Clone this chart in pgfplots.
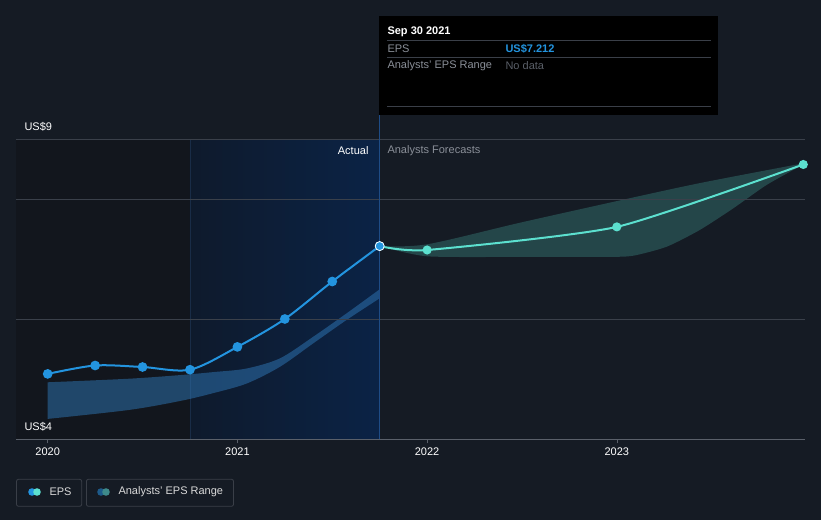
\documentclass[border=0pt]{standalone}
\usepackage{pgfplots}
\pgfplotsset{compat=1.18}
\usepgfplotslibrary{fillbetween}
\usepackage{fontspec}
\setmainfont{Liberation Sans}
\definecolor{bg}{HTML}{151B24}
\definecolor{darkreg}{HTML}{12161D}
\definecolor{blueL}{HTML}{0E1A2C}
\definecolor{blueR}{HTML}{0B2346}
\definecolor{epsblue}{HTML}{2394DF}
\definecolor{epsteal}{HTML}{5CE0CF}
\definecolor{pastband}{HTML}{2F78B8}
\definecolor{gridc}{HTML}{3A404A}
\definecolor{axisc}{HTML}{5A606A}
\definecolor{txtgray}{HTML}{8A8F98}
\definecolor{vline}{HTML}{1E4C86}
\definecolor{boxline}{HTML}{3A3F48}
\definecolor{nodata}{HTML}{5A5F68}
\definecolor{legA}{HTML}{1D5A8A}
\definecolor{legB}{HTML}{3E8A8A}
\pagecolor{bg}
\begin{document}
\begin{tikzpicture}[font=\fontsize{11}{13}\selectfont]
\begin{scope}[x=1pt,y=1pt]
\path (0,0) rectangle (821,520);
\end{scope}
\begin{axis}[
  at={(16pt,80.7pt)}, anchor=south west, scale only axis,
  width=789pt, height=423.3pt,
  xmin=2019.8329, xmax=2023.992, ymin=4, ymax=11.055,
  clip=false,
  axis x line=bottom, axis y line=none,
  axis line style={-,color=axisc,line width=0.8pt},
  xtick={2020,2021,2022,2023},
  xticklabels={2020,2021,2022,2023},
  xtick align=outside, major tick length=4pt,
  xtick style={color=axisc,line width=0.6pt},
  xticklabel style={text=white,font=\fontsize{11}{13}\selectfont,yshift=-1pt},
  /pgf/number format/assume math mode=true,
  ytick=\empty,
]
\begin{pgfonlayer}{axis background}
\fill[darkreg] (axis cs:2019.8329,4) rectangle (axis cs:2020.75,9);
\shade[left color=blueL,right color=blueR] (axis cs:2020.75,4) rectangle (axis cs:2021.75,9);
\draw[color=blueR!70!gridc,line width=0.6pt] (axis cs:2020.75,4) -- (axis cs:2020.75,9);
\end{pgfonlayer}
% grid lines
\draw[gridc,line width=0.7pt] (axis cs:2019.8329,6) -- (axis cs:2023.992,6);
\draw[gridc,line width=0.7pt] (axis cs:2019.8329,8) -- (axis cs:2023.992,8);
\draw[gridc,line width=0.7pt] (axis cs:2019.8329,9) -- (axis cs:2023.992,9);
% vertical marker line
\draw[vline,line width=0.8pt] (axis cs:2021.75,4) -- (axis cs:2021.75,10.8);
% past analysts range band
\addplot[name path=pu, draw=none, smooth, forget plot] coordinates {
 (2020.0,4.95) (2020.43,5.01) (2020.697,5.07) (2020.873,5.12) (2021.049,5.18) (2021.225,5.35) (2021.40,5.71) (2021.576,6.10) (2021.75,6.50)};
\addplot[name path=pl, draw=none, smooth, forget plot] coordinates {
 (2020.0,4.34) (2020.43,4.49) (2020.7,4.64) (2020.873,4.77) (2021.049,4.93) (2021.225,5.21) (2021.40,5.60) (2021.576,5.99) (2021.75,6.35)};
\addplot[fill=pastband, draw=none, fill opacity=0.5] fill between[of=pu and pl];
% forecast band
\addplot[name path=fu, draw=none, smooth, forget plot] coordinates {
 (2021.75,7.22) (2022.0,7.25) (2022.49,7.61) (2023.0,7.97) (2023.438,8.27) (2023.983,8.60)};
\addplot[name path=fl, draw=none, smooth, tension=0.4, forget plot] coordinates {
 (2021.75,7.22) (2022.0,7.05) (2022.5,7.04) (2022.95,7.04) (2023.087,7.06) (2023.263,7.21) (2023.438,7.49) (2023.614,7.85) (2023.79,8.24) (2023.983,8.58)};
\addplot[fill=epsteal, draw=none, fill opacity=0.22] fill between[of=fu and fl];
% actual EPS
\addplot[epsblue, line width=2pt, smooth, mark=*, mark size=3.8pt, mark options={fill=epsblue,draw=epsblue}] coordinates {
 (2020.0,5.09) (2020.25,5.23) (2020.5,5.205) (2020.75,5.16) (2021.0,5.54) (2021.25,6.005) (2021.5,6.63) (2021.75,7.22)};
% forecast EPS
\addplot[epsteal, line width=2pt, smooth, tension=0.35, mark=*, mark size=3.5pt, mark options={fill=epsteal,draw=epsteal}] coordinates {
 (2021.75,7.22) (2022.0,7.155) (2023.0,7.54) (2023.983,8.58)};
% highlighted point
\addplot[only marks, mark=*, mark size=4.5pt, mark options={fill=epsblue,draw=white,line width=0.8pt}] coordinates {(2021.75,7.22)};
\end{axis}
\begin{scope}[x=1pt,y=1pt]
% y labels
\node[anchor=west,text=white] at (21,393.3) {US\$9};
\node[anchor=west,text=white] at (21,93.3) {US\$4};
% Actual / Forecast labels
\node[anchor=east,text=white] at (372,369) {Actual};
\node[anchor=west,text=txtgray] at (384,369) {Analysts Forecasts};
% tooltip
\fill[black] (379,405) rectangle (718,504);
\node[anchor=west,text=white,font=\fontsize{11}{13}\selectfont\bfseries] at (384,488) {Sep 30 2021};
\draw[boxline,line width=0.6pt] (387,479.3) -- (711,479.3);
\node[anchor=west,text=txtgray] at (384,471.5) {EPS};
\node[anchor=west,text=epsblue,font=\fontsize{11}{13}\selectfont\bfseries] at (502,471.5) {US\$7.212};
\draw[boxline,line width=0.6pt] (387,462.7) -- (711,462.7);
\node[anchor=west,text=txtgray] at (384,454.5) {Analysts' EPS Range};
\node[anchor=west,text=nodata] at (502,454.5) {No data};
\draw[boxline,line width=0.6pt] (387,413.7) -- (711,413.7);
% legend
\draw[boxline,line width=0.8pt,rounded corners=2pt] (16.5,13.7) rectangle (81.7,40.7);
\fill[epsblue] (32,28) circle (3.8);
\fill[epsteal] (37,28) circle (3.8);
\node[anchor=west,text=white!85!black] at (46,28) {EPS};
\draw[boxline,line width=0.8pt,rounded corners=2pt] (86.4,13.7) rectangle (233.5,40.7);
\fill[legA] (101,28) circle (3.8);
\fill[legB] (106,28) circle (3.8);
\node[anchor=west,text=white!85!black] at (115,28) {Analysts' EPS Range};
\end{scope}
\end{tikzpicture}
\end{document}
